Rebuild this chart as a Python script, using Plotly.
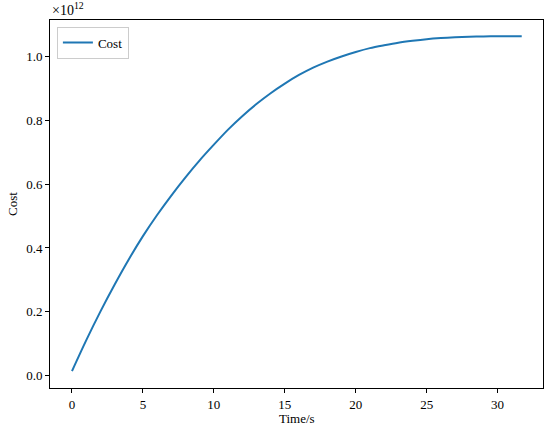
import plotly.graph_objects as go

# Time in seconds
time_s = [0, 1, 2, 3, 4, 5, 6, 7, 8, 9, 10, 11, 12, 13, 14, 15, 16, 17, 18, 19,
          20, 21, 22, 23, 24, 25, 26, 27, 28, 29, 30, 31, 31.7]
# Cost in units of 1e12
cost_e12 = [0.015, 0.111, 0.201, 0.285, 0.364, 0.437, 0.503, 0.564, 0.621, 0.674,
            0.723, 0.770, 0.812, 0.850, 0.884, 0.914, 0.941, 0.964, 0.983, 0.999,
            1.013, 1.025, 1.034, 1.042, 1.048, 1.053, 1.0565, 1.059, 1.0607, 1.0617,
            1.0623, 1.0625, 1.0625]

x_ticks = [0, 5, 10, 15, 20, 25, 30]
y_ticks = [0.0, 0.2, 0.4, 0.6, 0.8, 1.0]

font_family = "Liberation Serif, DejaVu Serif, serif"

fig = go.Figure()
fig.add_trace(go.Scatter(x=time_s, y=cost_e12, mode="lines", name="Cost",
                         line=dict(color="#1f77b4", width=2, shape="spline", smoothing=0.8)))

axis_common = dict(showline=True, linecolor="black", linewidth=1, mirror=True,
                   ticks="outside", ticklen=4, tickwidth=1, tickcolor="black",
                   showgrid=False, zeroline=False, automargin=False,
                   tickfont=dict(family=font_family, size=13, color="black"))

fig.update_layout(
    width=550, height=435,
    margin=dict(l=50, r=7, t=20, b=47),
    paper_bgcolor="white", plot_bgcolor="white",
    font=dict(family=font_family, size=13, color="black"),
    xaxis=dict(range=[-1.55, 33.2], tickvals=x_ticks, **axis_common),
    yaxis=dict(range=[-0.038, 1.113], tickvals=y_ticks, tickformat=".1f", **axis_common),
    showlegend=True,
    legend=dict(x=0.014, y=0.982, xanchor="left", yanchor="top",
                bordercolor="#cccccc", borderwidth=1, bgcolor="rgba(255,255,255,0.8)",
                font=dict(family=font_family, size=13), itemwidth=30,
                tracegroupgap=0),
    annotations=[
        dict(text="×10<sup>12</sup>", xref="paper", yref="paper",
             x=0, y=1.0, xanchor="left", yanchor="bottom", showarrow=False,
             font=dict(family=font_family, size=14, color="black"), yshift=0),
        dict(text="Time/s", xref="paper", yref="paper", x=0.5, y=0,
             xanchor="center", yanchor="middle", showarrow=False, yshift=-30,
             font=dict(family=font_family, size=13, color="black")),
        dict(text="Cost", xref="paper", yref="paper", x=0, y=0.5,
             xanchor="center", yanchor="middle", showarrow=False, xshift=-38,
             textangle=-90,
             font=dict(family=font_family, size=13, color="black")),
    ],
)

fig.write_html("out.html", config={"displayModeBar": False},
               post_script="document.body.style.margin='0';")
